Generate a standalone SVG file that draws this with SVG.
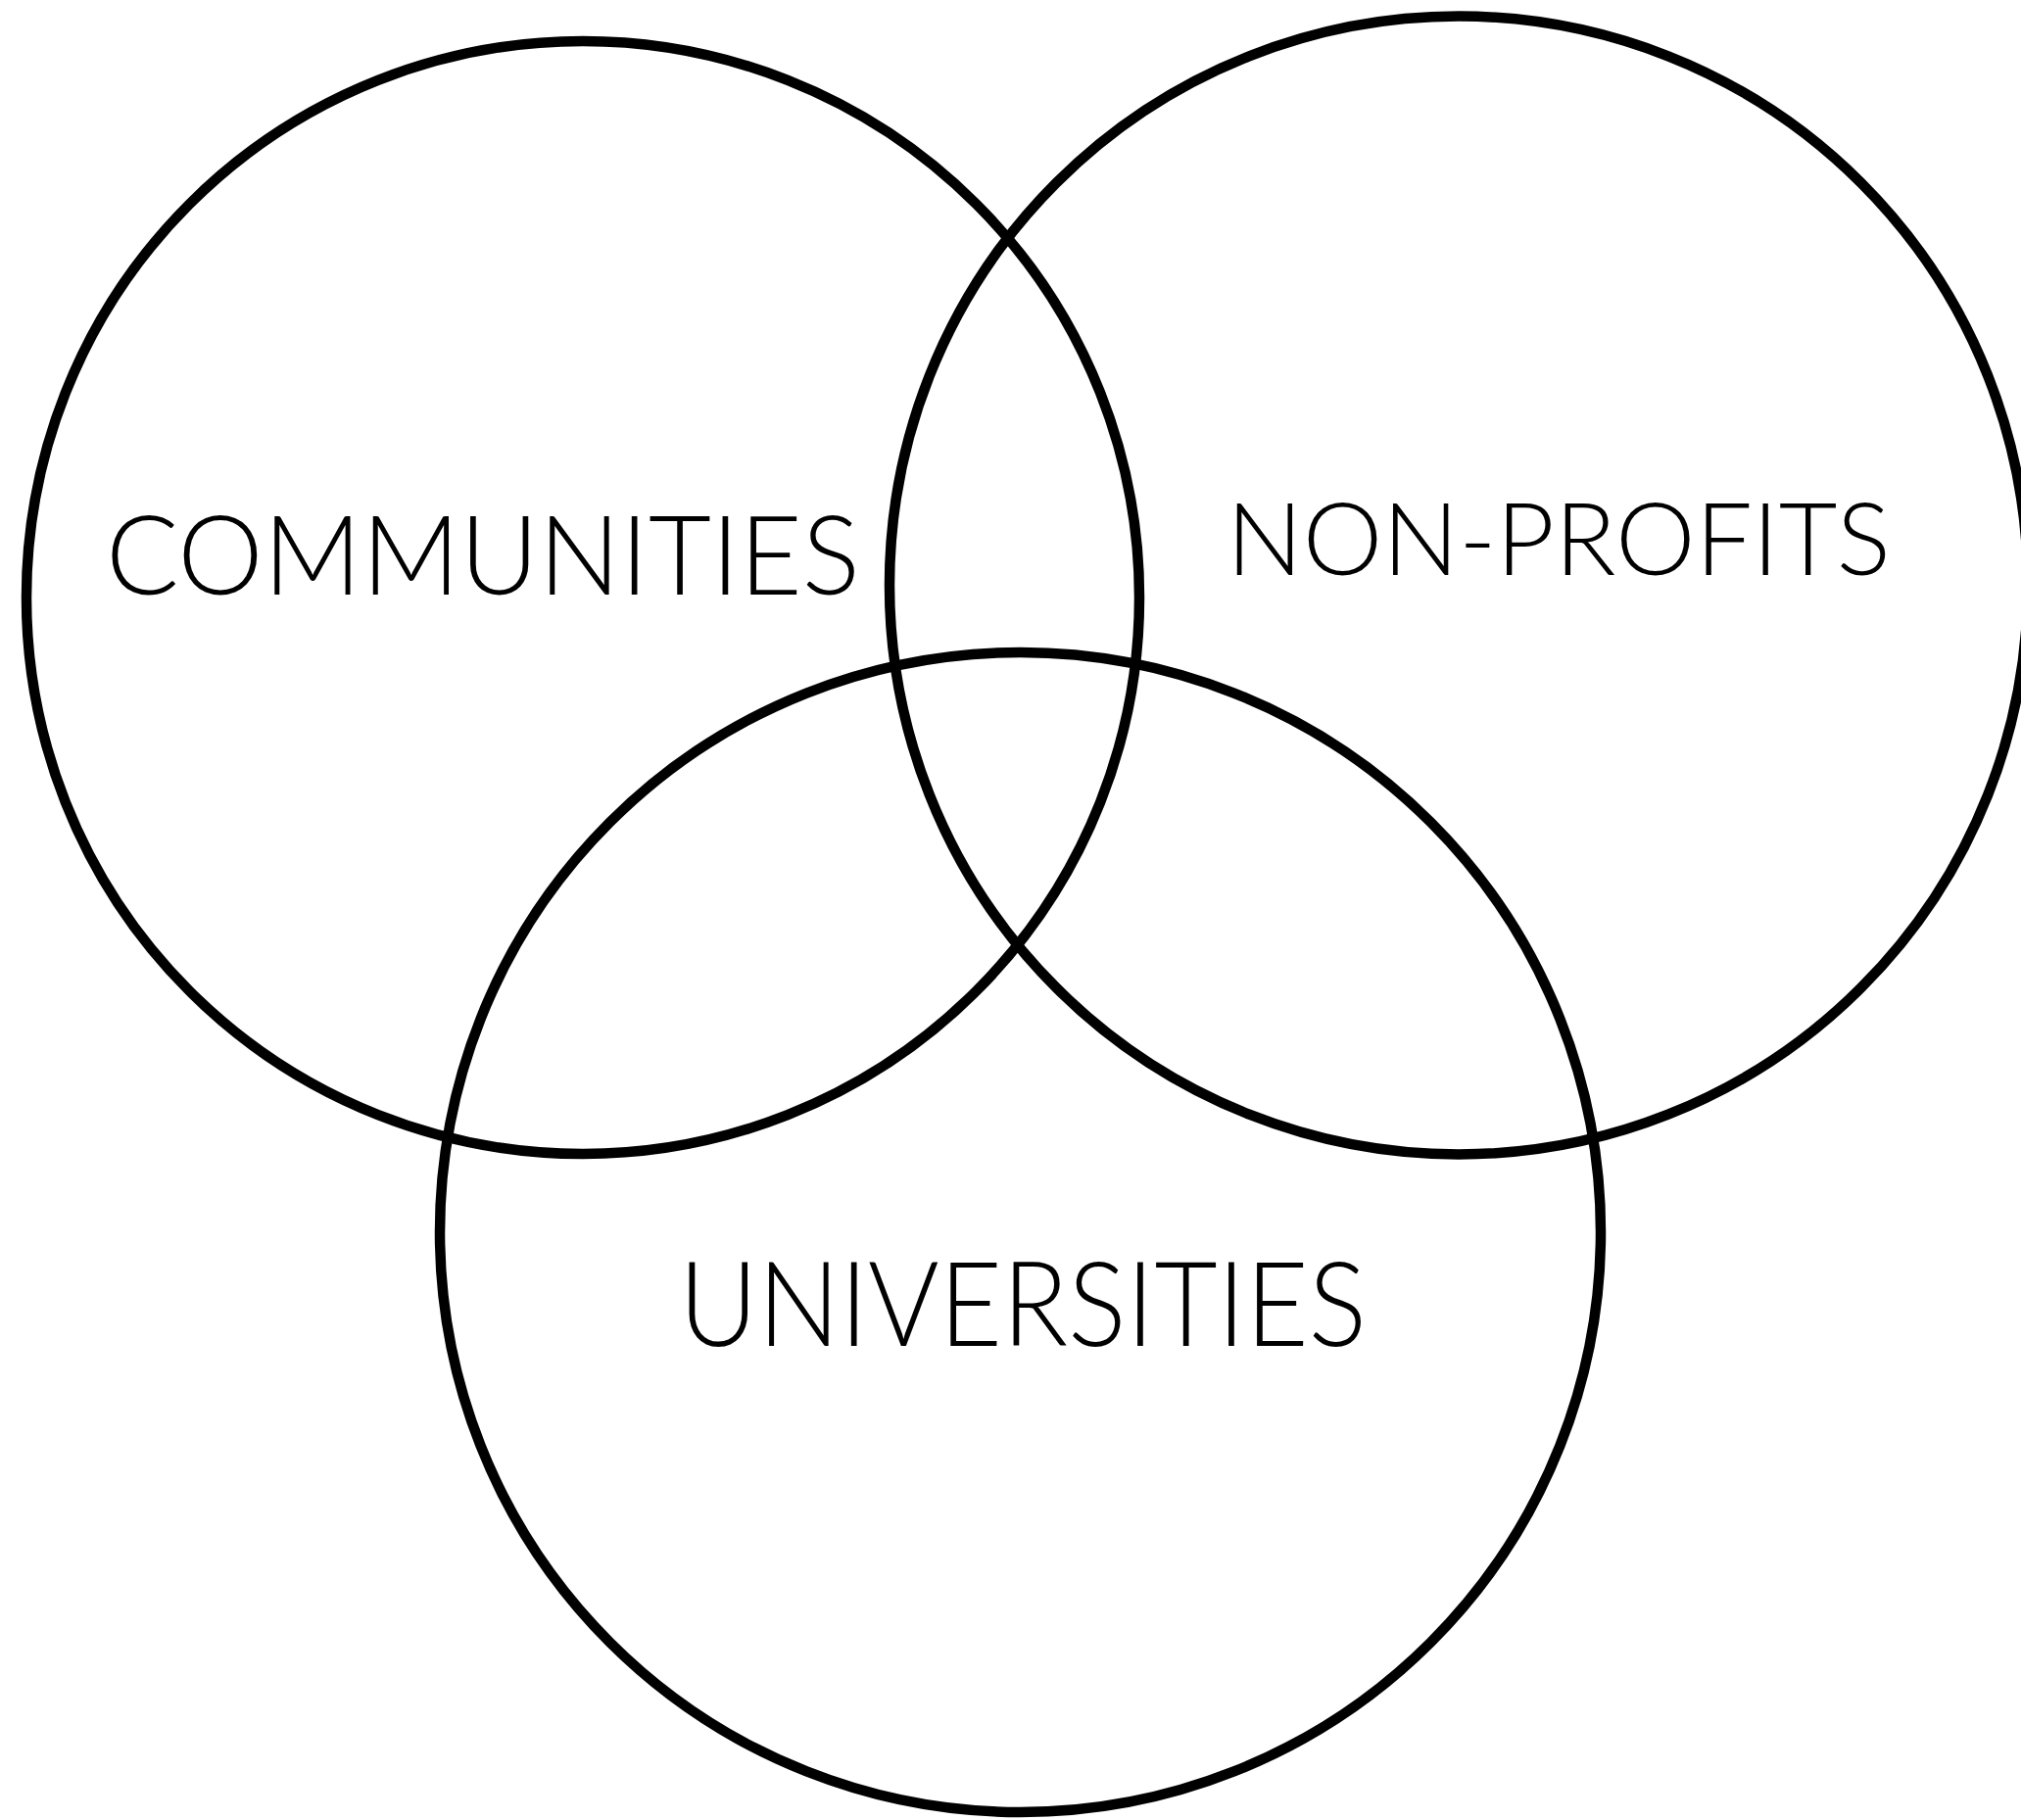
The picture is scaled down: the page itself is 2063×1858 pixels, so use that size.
<svg xmlns="http://www.w3.org/2000/svg" width="2063" height="1858" viewBox="0 0 2063 1858">
<style>
.c{fill:none;stroke:#000;stroke-width:10.5}
.t{font-family:Lato,"Liberation Sans",sans-serif;font-weight:300;fill:#000}
</style>
<rect width="2063" height="1858" fill="#fff"/>
<g id="connectors"></g>
<g id="communities">
<ellipse class="c" cx="595" cy="610" rx="568" ry="568"/>
<text class="t" x="108" y="607" font-size="112" textLength="770" lengthAdjust="spacingAndGlyphs">COMMUNITIES</text>
</g>
<g id="non-profits">
<ellipse class="c" cx="1489" cy="597.5" rx="581" ry="581"/>
<text class="t" x="1252" y="587" font-size="103" textLength="678" lengthAdjust="spacingAndGlyphs">NON-PROFITS</text>
</g>
<g id="universities">
<ellipse class="c" cx="1041.5" cy="1258" rx="592.5" ry="592"/>
<text class="t" x="693" y="1374" font-size="120" textLength="702" lengthAdjust="spacingAndGlyphs">UNIVERSITIES</text>
</g>
</svg>
